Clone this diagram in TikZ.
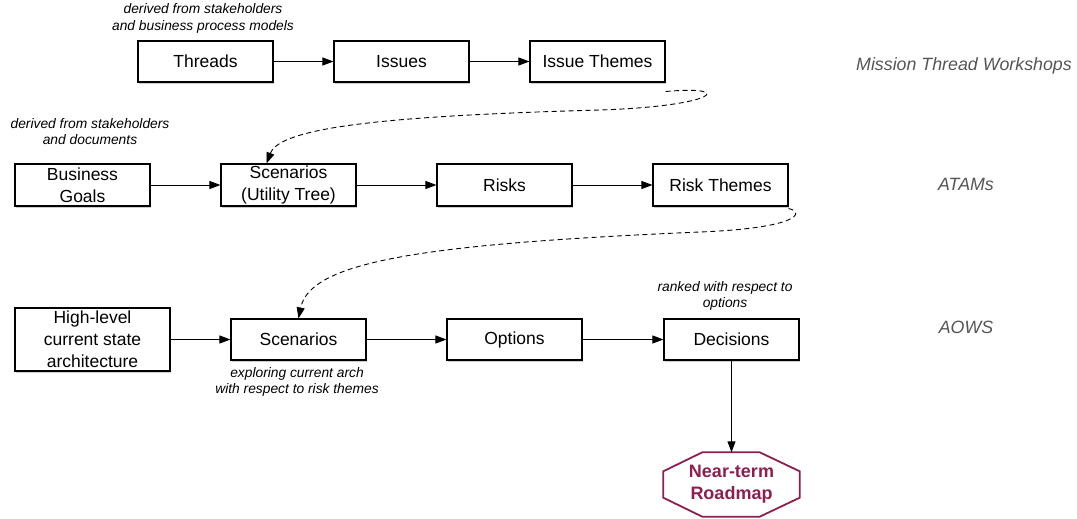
\documentclass[tikz,border=0pt]{standalone}
\usepackage{fontspec}
\setmainfont{Liberation Sans}
\usetikzlibrary{arrows.meta,shadows}
\definecolor{roadred}{RGB}{142,30,80}
\definecolor{sidegray}{RGB}{85,85,85}
\tikzset{
  box/.style={draw=black, line width=1.1pt, fill=white, align=center, inner sep=1pt,
    minimum width=135pt, minimum height=41pt,
    font=\fontsize{17.5}{22}\selectfont,
    drop shadow={shadow xshift=1.2pt, shadow yshift=-1.8pt, opacity=0.4, fill=gray}},
  flow/.style={line width=0.9pt, -{Triangle[length=11pt,width=8pt]}},
  dashflow/.style={line width=0.9pt, dash pattern=on 5pt off 3.5pt, -{Triangle[length=11pt,width=8pt]}},
  caption/.style={align=center, inner sep=0pt, font=\fontsize{13.8}{16.5}\selectfont\itshape},
  side/.style={inner sep=0pt, text=sidegray, font=\fontsize{17.8}{21}\selectfont\itshape},
  roadtext/.style={align=center, inner sep=0pt, text=roadred, minimum width=136pt, minimum height=64pt,
    font=\fontsize{18}{22}\selectfont\bfseries},
  octo/.style={draw=roadred, line width=1.8pt, line join=miter},
}
\begin{document}
\begin{tikzpicture}[x=1pt,y=-1pt]
\useasboundingbox (0,0) rectangle (1077,519);
% row 1
\node[box] (threads) at (205.5,61.5) {Threads};
\node[box] (issues) at (401.5,61.5) {Issues};
\node[box] (ithemes) at (597.5,61.5) {Issue Themes};
\node[caption] (cap1) at (203,18.5) {derived from stakeholders\\and business process models};
% row 2
\node[box, minimum height=42pt] (bgoals) at (82.5,185) {Business\\Goals};
\node[box, minimum height=42pt] (scenut) at (288.5,185) {Scenarios\\(Utility Tree)};
\node[box, minimum height=42pt] (risks) at (504.5,185) {Risks};
\node[box, minimum height=42pt] (rthemes) at (720.5,185) {Risk Themes};
\node[caption] (cap2) at (90,131.5) {derived from stakeholders\\and documents};
% row 3
\node[box, minimum width=155pt, minimum height=63pt] (hlarch) at (92.5,339.5) {High-level\\current state\\architecture};
\node[box] (scen) at (298.5,339.5) {Scenarios};
\node[box] (options) at (514.5,339.5) {Options};
\node[box] (decisions) at (731.5,339.5) {Decisions};
\node[caption] (cap3) at (297,382) {exploring current arch\\with respect to risk themes};
\node[caption] (cap4) at (725,296) {ranked with respect to\\options};
% roadmap octagon
\node[roadtext] (roadmap) at (731.5,484.5) {Near-term\\Roadmap};
\draw[octo] ([xshift=39pt]roadmap.north west) -- ([xshift=-40pt]roadmap.north east)
  -- ([yshift=-19pt]roadmap.north east) -- ([yshift=19pt]roadmap.south east)
  -- ([xshift=-40pt]roadmap.south east) -- ([xshift=39pt]roadmap.south west)
  -- ([yshift=19pt]roadmap.south west) -- ([yshift=-19pt]roadmap.north west) -- cycle;
% side labels
\node[side] (mtw) at (964,66) {Mission Thread Workshops};
\node[side] (atam) at (966,184) {ATAMs};
\node[side] (aows) at (966,327) {AOWS};
% connectors
\draw[flow] (threads) -- (issues);
\draw[flow] (issues) -- (ithemes);
\draw[flow] (bgoals) -- (scenut);
\draw[flow] (scenut) -- (risks);
\draw[flow] (risks) -- (rthemes);
\draw[flow] (hlarch) -- (scen);
\draw[flow] (scen) -- (options);
\draw[flow] (options) -- (decisions);
\draw[flow] (decisions) -- (roadmap.north);
\draw[dashflow] ([yshift=-9pt]ithemes.south east) .. controls (735,85) and (720,106) .. (600,110)
  .. controls (380,116) and (280,128) .. ([xshift=-22pt]scenut.north);
\draw[dashflow] ([yshift=-2pt]rthemes.south east) .. controls (805,212) and (800,228) .. (700,232)
  .. controls (420,244) and (310,262) .. (scen.north);
\end{tikzpicture}
\end{document}
